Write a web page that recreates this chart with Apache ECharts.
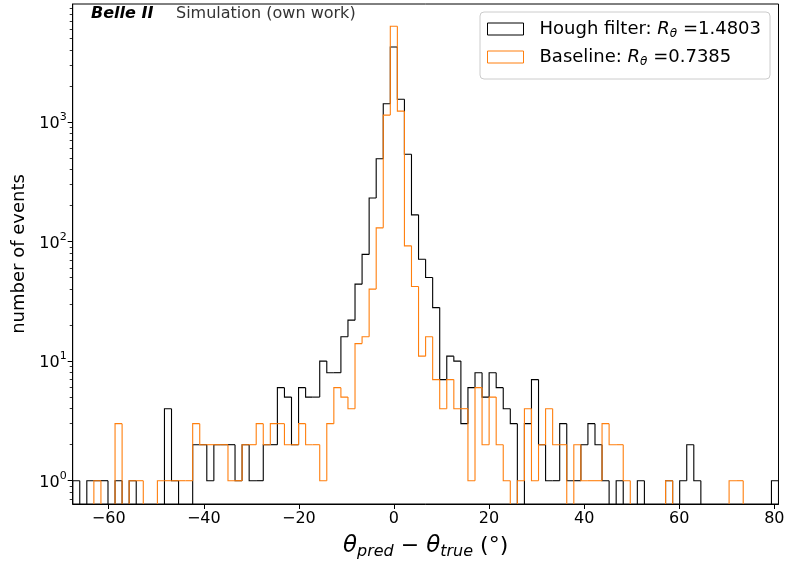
<!DOCTYPE html>
<html>
<head>
<meta charset="utf-8">
<script src="https://cdn.jsdelivr.net/npm/echarts@6/dist/echarts.min.js"></script>
<style>
html,body{margin:0;padding:0;background:#fff;}
#chart{width:786px;height:561px;}
</style>
</head>
<body>
<div id="chart"></div>
<script>
// Histogram range (degrees) and number of bins
const xMin = -67.57;
const xMax = 80.88;
const nBins = 100;

// Bin counts, Hough filter (black)
const hough = [
  1,0,1,1,1,0,1,0,1,0,
  0,0,0,4,1,0,0,2,2,1,
  2,2,2,1,2,1,1,2,2,6,
  5,2,6,5,5,10,8,8,16,22,
  44,78,231,492,1420,4230,1545,536,167,71,
  50,28,7,11,10,3,6,8,5,8,
  6,4,3,0,3,7,2,1,1,3,
  1,1,2,3,2,1,0,1,0,0,
  1,0,0,0,1,0,1,2,1,0,
  0,0,0,0,0,0,0,0,0,1
];

// Bin counts, Baseline (orange)
const baseline = [
  0,0,0,1,0,0,3,0,1,1,
  0,0,1,1,1,1,1,3,2,2,
  2,2,1,1,2,2,3,2,3,3,
  2,2,3,2,2,1,3,6,5,4,
  14,16,40,130,1140,6300,1230,92,42,11,
  16,7,4,7,4,4,1,6,2,5,
  2,1,0,1,4,1,2,4,2,2,
  0,2,1,1,1,3,2,2,1,0,
  0,0,0,0,1,0,0,0,0,0,
  0,0,0,1,1,0,0,0,0,0
];

const seriesNames = ['Hough filter', 'Baseline'];
const resolutions = ['1.4803', '0.7385'];
const xTicks = [-60, -40, -20, 0, 20, 40, 60, 80];
const yTicks = [1, 10, 100, 1000];
const yMinorTicks = [0.7, 0.8, 0.9, 2, 3, 4, 5, 6, 7, 8, 9, 20, 30, 40, 50, 60, 70, 80, 90,
  200, 300, 400, 500, 600, 700, 800, 900, 2000, 3000, 4000, 5000, 6000, 7000, 8000, 9000];
const yMin = 0.6385;
const yMax = 9678;

const binW = (xMax - xMin) / nBins;
function buildData(counts) {
  return counts.map((c, i) => [xMin + i * binW, xMin + (i + 1) * binW, c, i > 0 ? counts[i - 1] : 0, i === counts.length - 1 ? 1 : 0]);
}

function makeRender(color) {
  return function (params, api) {
    const cs = params.coordSys;
    const bottom = cs.y + cs.height + 5;
    const x0 = api.value(0), x1 = api.value(1), c = api.value(2), p = api.value(3), last = api.value(4);
    const yOf = (v) => v > 0 ? api.coord([x0, v])[1] : bottom;
    const px0 = api.coord([x0, yMin])[0];
    const px1 = api.coord([x1, yMin])[0];
    const yc = yOf(c), yp = yOf(p);
    const pts = [[px0, yp], [px0, yc], [px1, yc]];
    if (last) pts.push([px1, bottom]);
    return {
      type: 'polyline',
      shape: { points: pts },
      style: { stroke: color, fill: null, lineWidth: 1.1 }
    };
  };
}

const colors = ['#000000', '#ff7f0e'];
const chart = echarts.init(document.getElementById('chart'), null, { renderer: 'canvas' });

chart.setOption({
  animation: false,
  backgroundColor: '#ffffff',
  textStyle: { fontFamily: 'DejaVu Sans' },
  grid: { left: 72.7, top: 4, width: 705.8, height: 500, containLabel: false, outerBoundsMode: 'none', show: true, borderColor: '#000', borderWidth: 1, backgroundColor: 'transparent' },
  xAxis: {
    type: 'value', min: xMin, max: xMax,
    name: '{th|θ}{sub|pred}{n| − }{th|θ}{sub|true}{n| (°)}',
    nameLocation: 'middle', nameGap: 28,
    nameTextStyle: {
      rich: {
        th: { fontSize: 23, fontStyle: 'italic', fontFamily: 'DejaVu Sans', color: '#000', lineHeight: 28, verticalAlign: 'middle' },
        sub: { fontSize: 16, fontStyle: 'italic', fontFamily: 'DejaVu Sans', color: '#000', lineHeight: 16, verticalAlign: 'bottom' },
        n: { fontSize: 22, fontFamily: 'DejaVu Sans', color: '#000', lineHeight: 28, verticalAlign: 'middle' }
      }
    },
    axisLine: { show: true, onZero: false, lineStyle: { color: '#000', width: 1 } },
    axisTick: { show: true, length: 5, lineStyle: { color: '#000', width: 1 }, customValues: xTicks },
    axisLabel: {
      customValues: xTicks, fontSize: 16, color: '#000', margin: 7, fontFamily: 'DejaVu Sans',
      formatter: (v) => (v < 0 ? '\u2212' + Math.abs(v) : String(v))
    },
    splitLine: { show: false }
  },
  yAxis: [
    {
      type: 'log', logBase: 10, min: yMin, max: yMax,
      name: 'number of events', nameLocation: 'middle', nameGap: 42,
      nameTextStyle: { fontSize: 18, color: '#000', fontFamily: 'DejaVu Sans' },
      axisLine: { show: true, onZero: false, lineStyle: { color: '#000', width: 1 } },
      axisTick: { show: true, length: 5, lineStyle: { color: '#000', width: 1 }, customValues: yTicks },
      axisLabel: {
        customValues: yTicks, color: '#000', margin: 6,
        formatter: (v) => '{b|10}{e|' + Math.round(Math.log10(v)) + '}',
        rich: {
          b: { fontSize: 16, fontFamily: 'DejaVu Sans', color: '#000', lineHeight: 20, verticalAlign: 'bottom' },
          e: { fontSize: 11, fontFamily: 'DejaVu Sans', color: '#000', lineHeight: 8, verticalAlign: 'top' }
        }
      },
      splitLine: { show: false }
    },
    {
      type: 'log', logBase: 10, min: yMin, max: yMax, position: 'left',
      axisLine: { show: false, onZero: false },
      axisTick: { show: true, length: 3, lineStyle: { color: '#000', width: 0.8 }, customValues: yMinorTicks },
      axisLabel: { show: false },
      splitLine: { show: false }
    }
  ],
  legend: {
    orient: 'vertical', right: 16, top: 12,
    padding: [8, 9, 11, 7],
    itemWidth: 36, itemHeight: 12, itemGap: 8,
    borderColor: '#cccccc', borderWidth: 1, borderRadius: 4,
    backgroundColor: 'rgba(255,255,255,0.8)',
    data: seriesNames.map((n, i) => ({ name: n, icon: 'rect', itemStyle: { color: '#fff', borderColor: colors[i], borderWidth: 1 } })),
    formatter: (name) => {
      const r = resolutions[seriesNames.indexOf(name)];
      return '{f|' + name + ': }{i|R}{s|θ}{t| =' + r + '}';
    },
    textStyle: {
      rich: {
        f: { fontSize: 18, fontFamily: 'DejaVu Sans', color: '#000', lineHeight: 22, verticalAlign: 'middle', padding: [0, 0, 0, 11] },
        t: { fontSize: 18, fontFamily: 'DejaVu Sans', color: '#000', lineHeight: 22, verticalAlign: 'middle' },
        i: { fontSize: 18, fontStyle: 'italic', fontFamily: 'DejaVu Sans', color: '#000', lineHeight: 22, verticalAlign: 'middle' },
        s: { fontSize: 12, fontStyle: 'italic', fontFamily: 'DejaVu Sans', color: '#000', lineHeight: 12, verticalAlign: 'bottom' }
      }
    }
  },
  graphic: [
    { type: 'text', left: 91, top: 6, style: { text: 'Belle II', font: 'italic bold 16px "DejaVu Sans"', fill: '#000' } },
    { type: 'text', left: 176, top: 6, style: { text: 'Simulation (own work)', font: '16px "DejaVu Sans"', fill: '#333' } }
  ],
  series: [
    {
      name: seriesNames[0], type: 'custom', clip: true, xAxisIndex: 0, yAxisIndex: 0,
      data: buildData(hough), encode: { x: [0, 1], y: 2 },
      renderItem: makeRender(colors[0]), itemStyle: { color: colors[0] }, z: 3
    },
    {
      name: seriesNames[1], type: 'custom', clip: true, xAxisIndex: 0, yAxisIndex: 0,
      data: buildData(baseline), encode: { x: [0, 1], y: 2 },
      renderItem: makeRender(colors[1]), itemStyle: { color: colors[1] }, z: 4
    }
  ]
});
</script>
</body>
</html>
